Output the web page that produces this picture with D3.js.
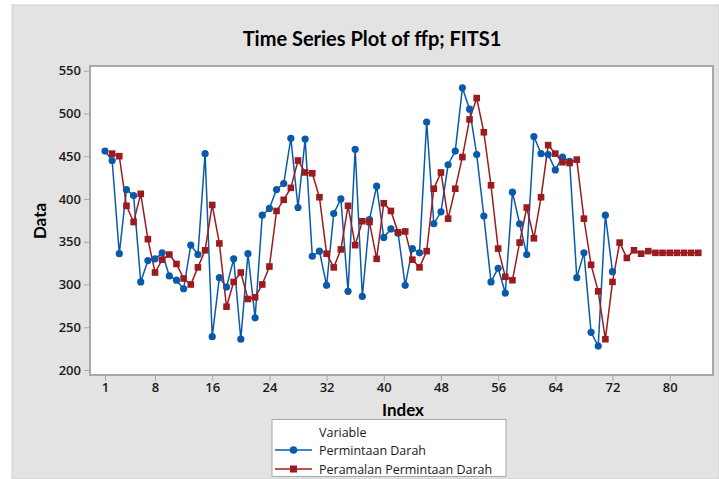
<!DOCTYPE html>
<html><head><meta charset="utf-8">
<script src="https://cdn.jsdelivr.net/npm/d3@7"></script>
<style>html,body{margin:0;padding:0;background:#fff;}svg{display:block;}</style>
</head><body>
<svg id="c" width="719" height="479"></svg>
<script>
const title = "Time Series Plot of ffp; FITS1";
const seriesNames = ["Permintaan Darah", "Peramalan Permintaan Darah"];
const xTicks = [1, 8, 16, 24, 32, 40, 48, 56, 64, 72, 80];
const yTicks = [200, 250, 300, 350, 400, 450, 500, 550];
// Permintaan Darah, index 1..72
const actual = [456,445,336,411,404,303,328,330,337,310,305,295,346,335,453,239,308,297,330,236,
  336,261,381,389,411,418,471,390,470,333,339,299,383,400,292,458,286,376,415,355,
  365,360,299,342,337,490,371,385,440,456,530,505,452,380,303,319,290,408,371,335,
  473,453,452,434,449,444,308,337,244,228,381,315];
// Peramalan Permintaan Darah (FITS1), index 2..84
const fitsStart = 2;
const fits = [453,450,392,373,406,353,314,329,335,324,307,300,320,340,393,348,274,303,314,283,
  285,300,321,386,399,413,445,431,430,402,336,320,341,392,346,374,373,330,395,386,
  361,362,329,320,339,412,431,377,412,449,493,518,478,416,342,309,305,349,390,354,
  402,463,453,443,442,446,377,323,292,236,303,349,331,340,336,339,337,337,337,337,
  337,337,337];

const blue = "#0a5aab", red = "#9b1b1e";
const svg = d3.select("#c");
// background
svg.append("rect").attr("x",12).attr("y",5).attr("width",707).attr("height",474)
  .attr("fill","#e3e3e3").attr("stroke","#cfcfcf").attr("stroke-width",1);
// plot frame
const L=90, T=66, R=713, B=375;
svg.append("rect").attr("x",L).attr("y",T).attr("width",R-L).attr("height",B-T)
  .attr("fill","#fff").attr("stroke","#a8a8a8").attr("stroke-width",2);

const x = d3.scaleLinear().domain([1,80]).range([105,669.7]);
const y = d3.scaleLinear().domain([200,550]).range([370,70.7]);

const font = "'Open Sans', 'Noto Sans', sans-serif";
const yAxis = svg.append("g").attr("transform",`translate(${L-1},0)`)
  .call(d3.axisLeft(y).tickValues(yTicks).tickSize(5).tickPadding(3));
const xAxis = svg.append("g").attr("transform",`translate(0,${B+1})`)
  .call(d3.axisBottom(x).tickValues(xTicks).tickSize(5).tickPadding(2));
[yAxis,xAxis].forEach(a=>{
  a.select(".domain").remove();
  a.selectAll(".tick line").attr("stroke","#a8a8a8");
  a.selectAll(".tick text").attr("fill","#1a1a1a").style("font-family",font)
    .style("font-size","13px").style("font-weight","600");
});

svg.append("text").attr("x",372).attr("y",46).attr("text-anchor","middle")
  .style("font-family","Lato, sans-serif").style("font-weight","700").style("font-size","20px")
  .attr("fill","#000").text(title);
svg.append("text").attr("x",403).attr("y",416).attr("text-anchor","middle")
  .style("font-family","Lato, sans-serif").style("font-weight","700").style("font-size","17px")
  .attr("fill","#000").text("Index");
svg.append("text").attr("transform","translate(46,221) rotate(-90)").attr("text-anchor","middle")
  .style("font-family","Lato, sans-serif").style("font-weight","700").style("font-size","17px")
  .attr("fill","#000").text("Data");

const g = svg.append("g");
const aData = actual.map((v,i)=>({i:i+1,v}));
const fData = fits.map((v,i)=>({i:i+fitsStart,v}));
const line = d3.line().x(d=>x(d.i)).y(d=>y(d.v));
g.append("path").datum(aData).attr("d",line).attr("fill","none").attr("stroke",blue).attr("stroke-width",1.5);
g.append("path").datum(fData).attr("d",line).attr("fill","none").attr("stroke",red).attr("stroke-width",1.5);
g.selectAll(".a").data(aData).join("circle").attr("cx",d=>x(d.i)).attr("cy",d=>y(d.v)).attr("r",3.6).attr("fill",blue);
g.selectAll(".f").data(fData).join("rect").attr("x",d=>x(d.i)-3.3).attr("y",d=>y(d.v)-3.3)
  .attr("width",6.6).attr("height",6.6).attr("fill",red);

// legend
const lg = svg.append("g");
lg.append("rect").attr("x",272).attr("y",419.5).attr("width",234).attr("height",57)
  .attr("fill","#fff").attr("stroke","#a8a8a8").attr("stroke-width",1);
lg.append("text").attr("x",319).attr("y",437).text("Variable")
  .style("font-family",font).style("font-size","12.5px").attr("fill","#1a1a1a");
[[blue,"c"],[red,"s"]].forEach(([col,shape],k)=>{
  const yy = 450 + k*19;
  lg.append("line").attr("x1",275).attr("x2",312).attr("y1",yy).attr("y2",yy).attr("stroke",col).attr("stroke-width",1.5);
  if(shape==="c") lg.append("circle").attr("cx",293.5).attr("cy",yy).attr("r",3.8).attr("fill",col);
  else lg.append("rect").attr("x",290).attr("y",yy-3.5).attr("width",7).attr("height",7).attr("fill",col);
  lg.append("text").attr("x",319).attr("y",yy+4.5).text(seriesNames[k])
    .style("font-family",font).style("font-size","12.5px").attr("fill","#1a1a1a");
});
</script>
</body></html>
